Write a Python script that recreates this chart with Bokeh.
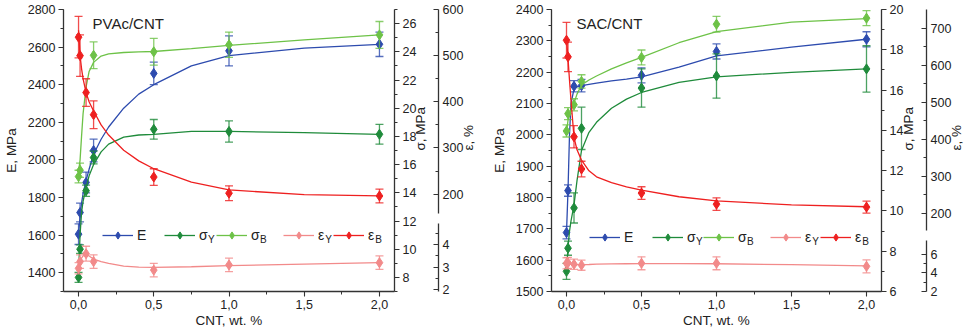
import math
from bokeh.plotting import figure
from bokeh.models import (Range1d, LinearAxis, FixedTicker, SingleIntervalTicker,
                          Label, Legend, LegendItem)
from bokeh.layouts import row
from bokeh.embed import file_html
from bokeh.resources import INLINE

# ---------------- data ----------------
# x positions of measured points, CNT wt.%
cnt = [0.0, 0.01, 0.05, 0.1, 0.5, 1.0, 2.0]
cnt_sB_pvac = [0.0, 0.01, 0.1, 0.5, 1.0, 2.0]
# x positions of the fitted curves
fit_x = [0.0, 0.01, 0.02, 0.03, 0.05, 0.07, 0.1, 0.15, 0.2, 0.3, 0.4, 0.5, 0.75, 1.0, 1.5, 2.0]

# PVAc/CNT
pvac_E = [1605, 1720, 1880, 2050, 2460, 2580, 2615]
pvac_E_err = [55, 50, 55, 60, 60, 80, 65]
pvac_sY = [8.0, 10.0, 14.15, 16.5, 18.5, 18.35, 18.15]
pvac_sY_err = [0.35, 0.3, 0.4, 0.45, 0.7, 0.75, 0.7]
pvac_sB = [15.15, 15.6, 23.75, 24.0, 24.5, 25.2]
pvac_sB_err = [0.45, 0.5, 0.95, 0.95, 0.9, 0.95]
pvac_eY = [2.95, 3.25, 3.6, 3.25, 2.87, 3.1, 3.2]
pvac_eY_err = [0.25, 0.3, 0.33, 0.3, 0.3, 0.3, 0.3]
pvac_eB = [540, 500, 420, 372, 237, 202, 196]
pvac_eB_err = [45, 45, 30, 30, 18, 16, 15]

pvac_E_fit = [1600, 1700, 1770, 1820, 1890, 1950, 2030, 2110, 2175, 2275, 2350, 2400, 2500, 2555, 2595, 2615]
pvac_sY_fit = [8.3, 11.0, 12.6, 13.4, 14.35, 15.2, 16.0, 16.9, 17.45, 17.95, 18.1, 18.15, 18.35, 18.35, 18.27, 18.15]
pvac_sB_fit = [15.5, 16.3, 18.0, 19.6, 21.5, 22.6, 23.25, 23.7, 23.85, 23.95, 24.0, 24.02, 24.22, 24.45, 24.85, 25.2]
pvac_eY_fit = [3.0, 3.25, 3.4, 3.5, 3.58, 3.5, 3.36, 3.25, 3.17, 3.05, 3.0, 2.99, 3.02, 3.07, 3.14, 3.2]
pvac_eB_fit = [555, 500, 472, 450, 420, 400, 380, 350, 328, 295, 272, 255, 226, 209, 199, 196]

# SAC/CNT
sac_E = [1688, 1822, 2155, 2157, 2190, 2266, 2305]
sac_E_err = [20, 18, 18, 20, 24, 24, 24]
sac_sY = [7.0, 8.15, 10.15, 14.1, 16.1, 16.7, 17.05]
sac_sY_err = [0.4, 0.35, 0.75, 1.05, 0.95, 1.1, 1.15]
sac_sB = [13.97, 14.83, 15.27, 16.43, 17.62, 19.27, 19.57]
sac_sB_err = [0.3, 0.3, 0.3, 0.33, 0.37, 0.39, 0.37]
sac_eY = [5.05, 5.1, 4.95, 4.85, 5.05, 5.05, 4.72]
sac_eY_err = [0.6, 0.6, 0.55, 0.55, 0.7, 0.7, 0.7]
sac_eB = [668, 623, 407, 320, 255, 225, 217]
sac_eB_err = [48, 40, 30, 21, 17, 17, 16]

sac_E_fit = [1688, 1822, 2000, 2100, 2147, 2153, 2157, 2161, 2165, 2172, 2178, 2185, 2216, 2252, 2280, 2305]
sac_sY_fit = [7.0, 8.2, 9.0, 9.5, 10.3, 11.5, 13.0, 13.9, 14.4, 15.1, 15.55, 15.88, 16.38, 16.66, 16.88, 17.05]
sac_sB_fit = [13.9, 14.5, 14.8, 15.0, 15.35, 15.8, 16.25, 16.5, 16.7, 17.05, 17.35, 17.62, 18.35, 18.9, 19.37, 19.55]
sac_eY_fit = [5.0, 5.0, 4.97, 4.95, 4.92, 4.9, 4.9, 4.92, 4.95, 4.98, 5.0, 5.02, 5.02, 5.0, 4.9, 4.78]
sac_eB_fit = [673, 619, 560, 506, 405, 372, 344, 315, 299, 283, 272, 263, 245, 234, 223, 218]

x_ticks = [0, 0.5, 1, 1.5, 2]
x_tick_labels = ["0,0", "0,5", "1,0", "1,5", "2,0"]
legend_labels = ["E", "σ", "σ", "ε", "ε"]
legend_subs = ["", "Y", "B", "Y", "B"]

# ---------------- style ----------------
FONT = "Liberation Sans"
TXT = "#222222"
AX = "#333333"
C_E = "#2D4BAE"
C_SY = "#1F8B3B"
C_SB = "#6DC247"
C_EY = "#F28A8A"
C_EB = "#EE2020"


def style_axis(ax, label_size="12.5px"):
    ax.axis_line_color = AX
    ax.axis_line_width = 1.3
    ax.major_tick_line_color = AX
    ax.minor_tick_line_color = AX
    ax.major_tick_line_width = 1.1
    ax.minor_tick_line_width = 1.0
    ax.major_tick_out = 5
    ax.major_tick_in = 0
    ax.minor_tick_out = 3
    ax.minor_tick_in = 0
    ax.major_label_text_font = FONT
    ax.major_label_text_font_size = label_size
    ax.major_label_text_color = TXT
    ax.axis_label_text_font = FONT
    ax.axis_label_text_font_size = "13.5px"
    ax.axis_label_text_font_style = "normal"
    ax.axis_label_text_color = TXT
    ax.axis_label_text_line_height = 1.0


def line_only_axis(rng_name, bounds):
    ax = LinearAxis(y_range_name=rng_name, ticker=FixedTicker(ticks=[]), bounds=bounds,
                    major_label_standoff=0, axis_label_standoff=0)
    ax.axis_line_color = AX
    ax.axis_line_width = 1.3
    ax.major_tick_in = 0
    ax.major_tick_out = 0
    ax.minor_tick_in = 0
    ax.minor_tick_out = 0
    return ax


def series(p, x, y, err, fx, fy, color, rng):
    lo = [a - b for a, b in zip(y, err)]
    hi = [a + b for a, b in zip(y, err)]
    line = p.line(fx, fy, line_color=color, line_width=1.3, y_range_name=rng)
    p.segment(x, lo, x, hi, line_color=color, line_width=1.3, line_alpha=0.8, y_range_name=rng)
    p.scatter(x, lo, marker="dash", size=8, line_color=color, line_width=1.3, line_alpha=0.8, y_range_name=rng)
    p.scatter(x, hi, marker="dash", size=8, line_color=color, line_width=1.3, line_alpha=0.8, y_range_name=rng)
    pts = p.scatter(x, y, marker="diamond", size=10, fill_color=color, line_color=color, y_range_name=rng)
    return [line, pts]


def panel(title, E_rng, E_step, sig_rng, eps_hi, eps_lo, hi_major, hi_minor, lo_major, lo_minor,
          borders, sig_standoff, data, legend_x, legend_y, gap, title_x):
    p = figure(width=487, height=331, x_range=Range1d(-0.1, 2.1), y_range=Range1d(*E_rng),
               output_backend="svg", toolbar_location=None,
               min_border_left=borders[0], min_border_right=borders[1],
               min_border_top=9, min_border_bottom=40,
               background_fill_color="white", border_fill_color="white",
               outline_line_color=None)
    p.extra_y_ranges = {"sig": Range1d(*sig_rng), "eps_hi": Range1d(*eps_hi), "eps_lo": Range1d(*eps_lo)}
    p.xgrid.visible = False
    p.ygrid.visible = False

    xa = p.xaxis[0]
    xa.ticker = FixedTicker(ticks=x_ticks, minor_ticks=[0.25, 0.75, 1.25, 1.75])
    xa.major_label_overrides = dict(zip(x_ticks, x_tick_labels))
    xa.axis_label = "CNT, wt. %"
    style_axis(xa)
    xa.major_label_standoff = 3
    xa.axis_label_standoff = 1

    ya = p.yaxis[0]
    ya.ticker = SingleIntervalTicker(interval=E_step, num_minor_ticks=2)
    ya.axis_label = "E, MPa"
    style_axis(ya)
    ya.major_label_standoff = 3
    ya.axis_label_standoff = 6

    sa = LinearAxis(y_range_name="sig", axis_label="σ, MPa",
                    ticker=SingleIntervalTicker(interval=2, num_minor_ticks=2))
    style_axis(sa)
    sa.major_label_standoff = 3
    sa.axis_label_standoff = sig_standoff

    hs, he = eps_hi
    ls, le = eps_lo

    def v(t):
        return round(hs + (t - ls) / (le - ls) * (he - hs), 1)

    ticks = list(hi_major) + [v(t) for t in lo_major]
    minors = list(hi_minor) + [v(t) for t in lo_minor]
    overrides = {t: str(t) for t in hi_major}
    for t in lo_major:
        overrides[v(t)] = str(t)
    ea = LinearAxis(y_range_name="eps_hi", axis_label="ε, %",
                    ticker=FixedTicker(ticks=ticks, minor_ticks=minors),
                    major_label_overrides=overrides)
    style_axis(ea)
    ea.axis_line_color = None
    ea.major_tick_in = 5
    ea.major_tick_out = 0
    ea.minor_tick_in = 3
    ea.minor_tick_out = 0
    ea.major_label_standoff = 4
    ea.axis_label_standoff = 2
    for ax in (sa, ea):
        try:
            ax.axis_label_orientation = math.pi / 2
        except Exception:
            pass
    p.add_layout(sa, "right")
    # broken strain axis: two line pieces with a gap, then ticks and labels
    p.add_layout(line_only_axis("eps_hi", (gap[1], he)), "right")
    p.add_layout(line_only_axis("eps_hi", (hs, gap[0])), "right")
    p.add_layout(ea, "right")

    E, Ee, sY, sYe, xsB, sB, sBe, eY, eYe, eB, eBe, fE, fsY, fsB, feY, feB = data
    r_E = series(p, cnt, E, Ee, fit_x, fE, C_E, "default")
    r_sY = series(p, cnt, sY, sYe, fit_x, fsY, C_SY, "sig")
    r_sB = series(p, xsB, sB, sBe, fit_x, fsB, C_SB, "sig")
    r_eY = series(p, cnt, eY, eYe, fit_x, feY, C_EY, "eps_lo")
    r_eB = series(p, cnt, eB, eBe, fit_x, feB, C_EB, "eps_hi")

    rends = [r_E, r_sY, r_sB, r_eY, r_eB]
    sub_dx = {"σ": 8.6, "ε": 6.8, "E": 9.0}
    for lab, sub, rr, lx in zip(legend_labels, legend_subs, rends, legend_x):
        lg = Legend(items=[LegendItem(label=lab, renderers=rr)], location=(lx, legend_y - 9),
                    orientation="horizontal", padding=0, margin=0, spacing=0,
                    glyph_width=31, glyph_height=18, label_height=18, label_standoff=4,
                    border_line_color=None, background_fill_alpha=0,
                    label_text_font=FONT, label_text_font_size="14px", label_text_color=TXT)
        p.add_layout(lg, "center")
        if sub:
            p.add_layout(Label(x=lx + 35 + sub_dx[lab], y=legend_y - 4, x_units="screen", y_units="screen",
                               text=sub, text_font=FONT, text_font_size="10px", text_color=TXT,
                               text_baseline="middle", text_align="left"))

    p.add_layout(Label(x=title_x, y=268, x_units="screen", y_units="screen", text=title,
                       text_font=FONT, text_font_size="15px", text_color=TXT,
                       text_baseline="middle", text_align="left"))
    return p


p1 = panel("PVAc/CNT", (1300, 2800), 200, (7, 27), (-11, 600), (1.92, 14.45),
           [200, 300, 400, 500, 600], [250, 350, 450, 550], [2, 3, 4], [2.5, 3.5, 4.5],
           (61, 93), 1,
           (pvac_E, pvac_E_err, pvac_sY, pvac_sY_err, cnt_sB_pvac, pvac_sB, pvac_sB_err,
            pvac_eY, pvac_eY_err, pvac_eB, pvac_eB_err,
            pvac_E_fit, pvac_sY_fit, pvac_sB_fit, pvac_eY_fit, pvac_eB_fit),
           [39, 101, 153, 220, 270], 56, (136, 158), 29)

p2 = panel("SAC/CNT", (1500, 2400), 100, (6, 20), (-11, 751), (2.0, 32.5),
           [200, 300, 400, 500, 600, 700], [250, 350, 450, 550, 650], [2, 4, 6], [3, 5],
           (64, 88), 2,
           (sac_E, sac_E_err, sac_sY, sac_sY_err, cnt, sac_sB, sac_sB_err,
            sac_eY, sac_eY_err, sac_eB, sac_eB_err,
            sac_E_fit, sac_sY_fit, sac_sB_fit, sac_eY_fit, sac_eB_fit),
           [38, 101, 152, 219, 269], 54, (127, 154), 25)

layout = row(p1, p2, spacing=0)
open("out.html", "w").write(file_html(layout, INLINE))
